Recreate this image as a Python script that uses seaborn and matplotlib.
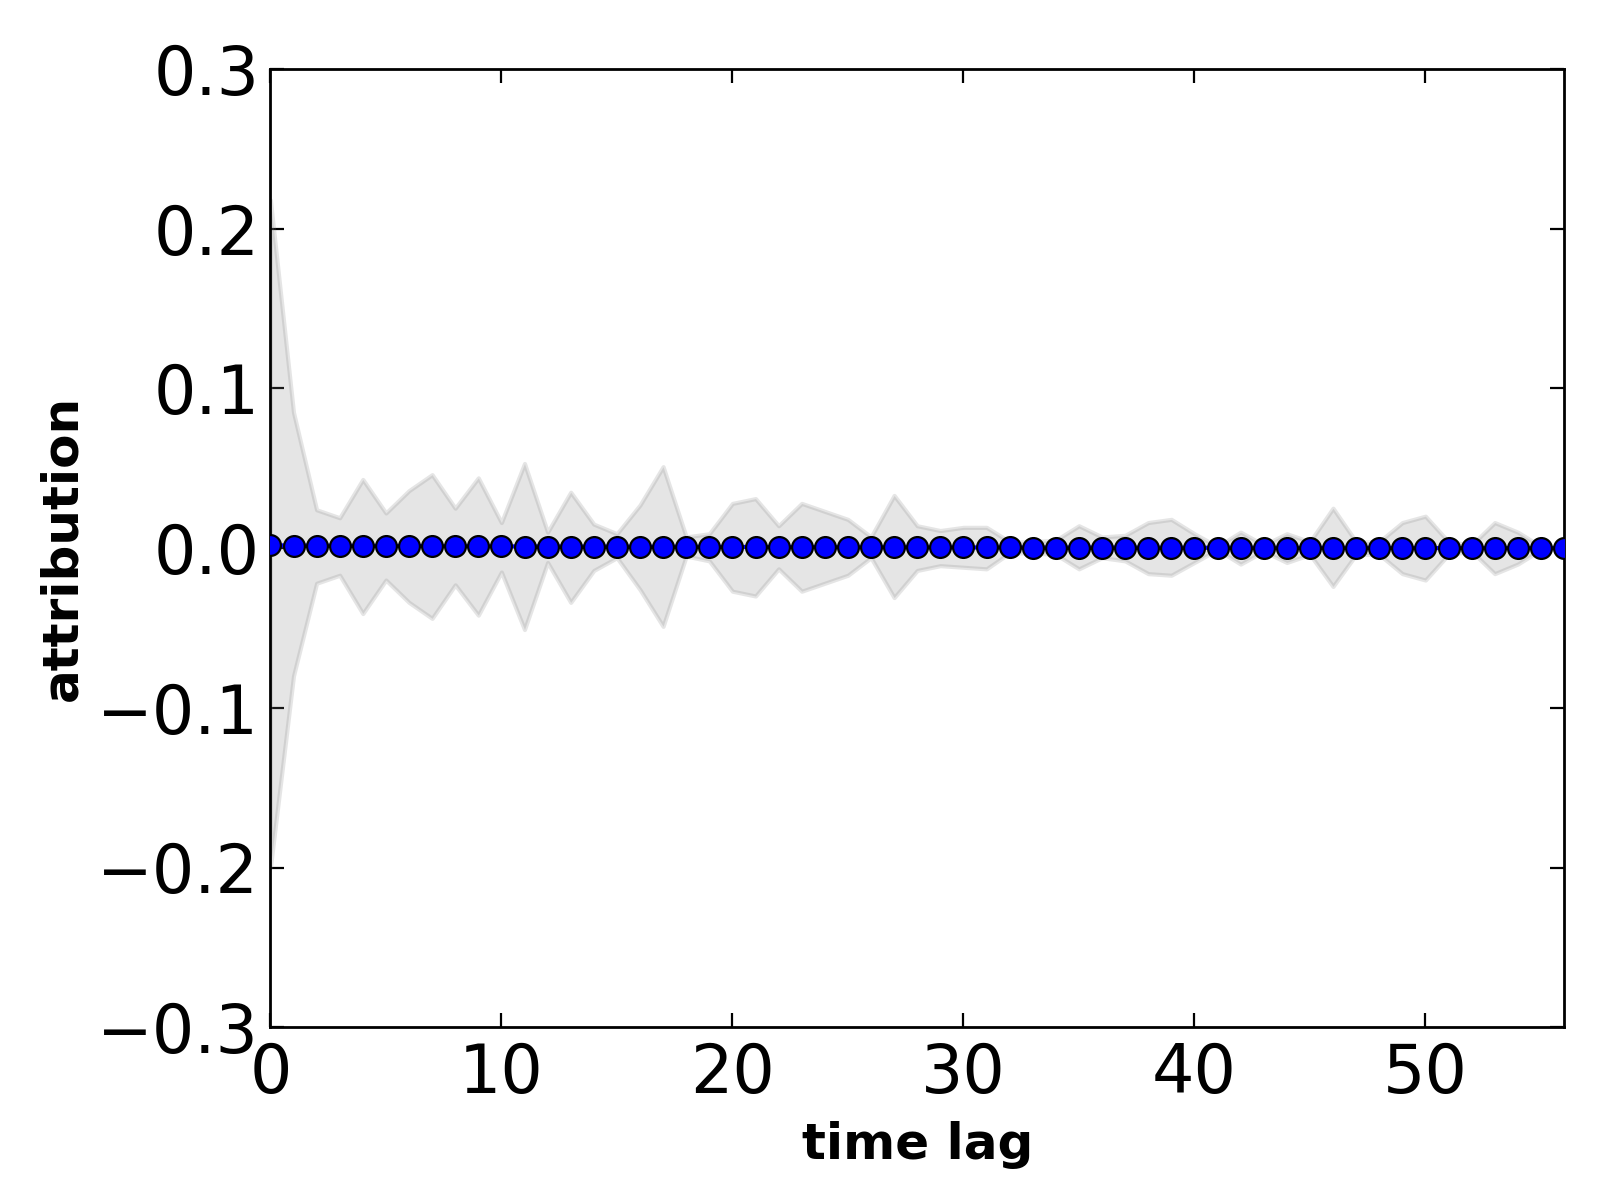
import numpy as np
import pandas as pd
import matplotlib
matplotlib.use('Agg')
import matplotlib.pyplot as plt
import seaborn as sns

# time lags 0..56
lags = list(range(57))

# mean attribution (very close to zero, slowly drifting down)
mean_attr = [0.0018, 0.0016, 0.0015, 0.0014, 0.0014, 0.0013, 0.0013, 0.0012, 0.0012, 0.0011,
             0.0011, 0.0010, 0.0010, 0.0009, 0.0009, 0.0009, 0.0008, 0.0008, 0.0008, 0.0007,
             0.0007, 0.0007, 0.0006, 0.0006, 0.0006, 0.0005, 0.0005, 0.0005, 0.0005, 0.0004,
             0.0004, 0.0004, 0.0004, 0.0003, 0.0003, 0.0003, 0.0003, 0.0003, 0.0002, 0.0002,
             0.0002, 0.0002, 0.0002, 0.0001, 0.0001, 0.0001, 0.0001, 0.0001, 0.0001, 0.0000,
             0.0000, 0.0000, 0.0000, 0.0000, 0.0000, 0.0000, 0.0000]

# upper / lower band edges
upper = [0.218, 0.085, 0.024, 0.019, 0.043, 0.022, 0.036, 0.046, 0.025, 0.044,
         0.016, 0.053, 0.010, 0.035, 0.015, 0.009, 0.027, 0.051, 0.007, 0.009,
         0.028, 0.031, 0.014, 0.028, 0.023, 0.018, 0.007, 0.033, 0.014, 0.011,
         0.013, 0.013, 0.004, 0.004, 0.005, 0.014, 0.007, 0.008, 0.016, 0.018,
         0.009, 0.001, 0.010, 0.002, 0.009, 0.004, 0.025, 0.004, 0.004, 0.016,
         0.020, 0.004, 0.002, 0.016, 0.010, 0.001, 0.000]
lower = [-0.200, -0.080, -0.022, -0.017, -0.041, -0.020, -0.034, -0.044, -0.023, -0.042,
         -0.015, -0.051, -0.009, -0.034, -0.014, -0.006, -0.026, -0.049, -0.005, -0.008,
         -0.027, -0.030, -0.013, -0.027, -0.022, -0.017, -0.006, -0.031, -0.014, -0.011,
         -0.012, -0.013, -0.003, -0.003, -0.004, -0.013, -0.006, -0.008, -0.016, -0.017,
         -0.009, -0.001, -0.010, -0.002, -0.009, -0.004, -0.024, -0.004, -0.004, -0.016,
         -0.020, -0.004, -0.002, -0.016, -0.010, -0.001, -0.000]

df = pd.DataFrame({'lag': lags, 'mean': mean_attr, 'upper': upper, 'lower': lower})

sns.set_style('ticks', {'xtick.direction': 'in', 'ytick.direction': 'in'})
plt.rcParams['font.family'] = ['DejaVu Sans']
plt.rcParams['text.color'] = 'black'
plt.rcParams['axes.labelcolor'] = 'black'
plt.rcParams['xtick.color'] = 'black'
plt.rcParams['ytick.color'] = 'black'

fig, ax = plt.subplots(figsize=(8, 6), dpi=200)
fig.subplots_adjust(left=0.169, right=0.9775, top=0.9425, bottom=0.144)

ax.fill_between(df['lag'], df['lower'], df['upper'], color='0.5', alpha=0.2, linewidth=1.5)
sns.lineplot(data=df, x='lag', y='mean', ax=ax, color='blue', linewidth=1.5,
             marker='o', markersize=7.5, markerfacecolor='blue', markeredgecolor='black',
             markeredgewidth=0.8, zorder=5)

ax.set_xlim(0, 56)
ax.set_ylim(-0.3, 0.3)
ax.set_xticks([0, 10, 20, 30, 40, 50])
ax.set_yticks([-0.3, -0.2, -0.1, 0.0, 0.1, 0.2, 0.3])
ax.set_yticklabels(['\u22120.3', '\u22120.2', '\u22120.1', '0.0', '0.1', '0.2', '0.3'])
ax.tick_params(axis='both', which='major', labelsize=24, length=5, width=0.8,
               top=True, right=True, direction='in', pad=4, colors='black')
ax.tick_params(axis='x', pad=5)
for sp in ax.spines.values():
    sp.set_linewidth(1.0)
    sp.set_color('black')

ax.set_xlabel('time lag', fontsize=18, fontweight='bold', color='black', labelpad=5)
ax.set_ylabel('attribution', fontsize=18, fontweight='bold', color='black')

fig.savefig('out.png', dpi=200)
